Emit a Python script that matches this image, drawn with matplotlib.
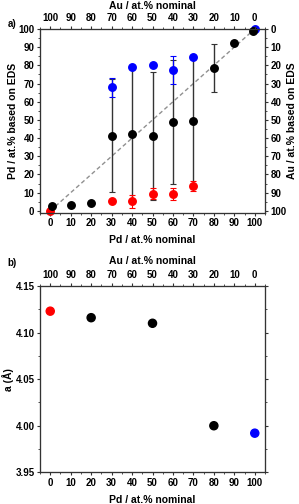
import matplotlib
matplotlib.use('Agg')
import matplotlib.pyplot as plt
from matplotlib.ticker import MultipleLocator

plt.rcParams['font.family'] = ['Liberation Sans', 'DejaVu Sans']
plt.rcParams['font.weight'] = 'bold'
plt.rcParams['axes.labelweight'] = 'bold'

# panel a: EDS composition vs nominal composition
black_x = [1, 10, 20, 30, 40, 50, 60, 70, 80, 90, 99]
black_y = [2.7, 3.4, 4.4, 41.4, 42.3, 41.2, 48.9, 49.3, 78.4, 92.1, 98.9]
black_err = [0, 0, 0, 31, 37, 35, 34, 35.5, 13.1, 0, 0]

blue_x = [30, 40, 50, 60, 70, 100]
blue_y = [68.0, 79.1, 80.2, 77.3, 84.8, 100]
blue_err = [5.3, 0, 0, 7.8, 0, 0]

red_x = [0, 30, 40, 50, 60, 70]
red_y = [0, 5.5, 5.3, 9.5, 9.4, 13.8]
red_err = [0, 0, 3.5, 3.0, 3.3, 2.8]

# panel b: lattice parameter
b_x = [0, 20, 50, 80, 100]
b_a = [4.123, 4.116, 4.110, 4.000, 3.992]
b_colors = ['#ff0000', 'black', 'black', 'black', '#0000ff']

TICKS = list(range(0, 101, 10))
FS_TICK = 7
FS_LAB = 7.5
SPINE = '#333333'


def style(ax):
    for s in ax.spines.values():
        s.set_color(SPINE)
        s.set_linewidth(0.8)
    ax.tick_params(which='major', direction='out', length=2.5, width=0.8,
                   color=SPINE, labelsize=FS_TICK, pad=1.5)
    ax.tick_params(which='minor', direction='out', length=1.5, width=0.6,
                   color=SPINE)


fig = plt.figure(figsize=(2.99, 5.04), dpi=100)

# ---- panel a
ax = fig.add_axes([0.1338, 0.578, 0.7525, 0.3645])
ax.plot([0, 100], [0, 100], ls=(0, (3, 2)), color='#909090', lw=1.0, zorder=1)

ax.errorbar(black_x, black_y, yerr=black_err, fmt='none', ecolor='#333333',
            elinewidth=1.0, capsize=2.2, capthick=0.8, zorder=2)
ax.errorbar(blue_x, blue_y, yerr=blue_err, fmt='o', color='#0000ff', ms=5.4,
            elinewidth=0.8, capsize=2.2, capthick=0.8, zorder=3, clip_on=False)
ax.errorbar(red_x, red_y, yerr=red_err, fmt='o', color='#ff0000', ms=5.4,
            elinewidth=0.8, capsize=2.2, capthick=0.8, zorder=3, clip_on=False)
ax.plot(black_x, black_y, 'o', color='black', ms=5.4, zorder=4, clip_on=False)

ax.set_xlim(-5, 105)
ax.set_ylim(-1, 100)
ax.set_xticks(TICKS)
ax.set_yticks(TICKS)
ax.xaxis.set_minor_locator(MultipleLocator(5))
ax.yaxis.set_minor_locator(MultipleLocator(5))
ax.set_xlabel('Pd / at.% nominal', fontsize=FS_LAB, labelpad=5)
ax.set_ylabel('Pd / at.% based on EDS', fontsize=FS_LAB, labelpad=0)
style(ax)

axt = ax.twiny()
axt.set_xlim(105, -5)
axt.set_xticks(TICKS)
axt.xaxis.set_minor_locator(MultipleLocator(5))
axt.set_xlabel('Au / at.% nominal', fontsize=FS_LAB, labelpad=3)
style(axt)

axr = ax.twinx()
axr.set_ylim(101, 0)
axr.set_yticks(TICKS)
axr.yaxis.set_minor_locator(MultipleLocator(5))
axr.set_ylabel('Au / at.% based on EDS', fontsize=FS_LAB, labelpad=0.5)
style(axr)

fig.text(0.025, 0.952, 'a)', fontsize=FS_TICK, fontweight='bold', va='center')

# ---- panel b
bx = fig.add_axes([0.1338, 0.0629, 0.7525, 0.3696])
bx.scatter(b_x, b_a, s=34, c=b_colors, zorder=3, clip_on=False)
bx.set_xlim(-5, 105)
bx.set_ylim(3.95, 4.15)
bx.set_xticks(TICKS)
bx.set_yticks([3.95, 4.00, 4.05, 4.10, 4.15])
bx.set_yticklabels(['3.95', '4.00', '4.05', '4.10', '4.15'])
bx.xaxis.set_minor_locator(MultipleLocator(5))
bx.yaxis.set_minor_locator(MultipleLocator(0.025))
bx.set_xlabel('Pd / at.% nominal', fontsize=FS_LAB, labelpad=5)
bx.set_ylabel('a (Å)', fontsize=FS_LAB, labelpad=1)
style(bx)

bt = bx.twiny()
bt.set_xlim(105, -5)
bt.set_xticks(TICKS)
bt.xaxis.set_minor_locator(MultipleLocator(5))
bt.set_xlabel('Au / at.% nominal', fontsize=FS_LAB, labelpad=5)
style(bt)

br = bx.twinx()
br.set_ylim(3.95, 4.15)
br.set_yticks([3.95, 4.00, 4.05, 4.10, 4.15])
br.yaxis.set_minor_locator(MultipleLocator(0.025))
style(br)
br.tick_params(labelright=False)

fig.text(0.025, 0.479, 'b)', fontsize=FS_TICK, fontweight='bold', va='center')

fig.savefig('out.png', dpi=100)
